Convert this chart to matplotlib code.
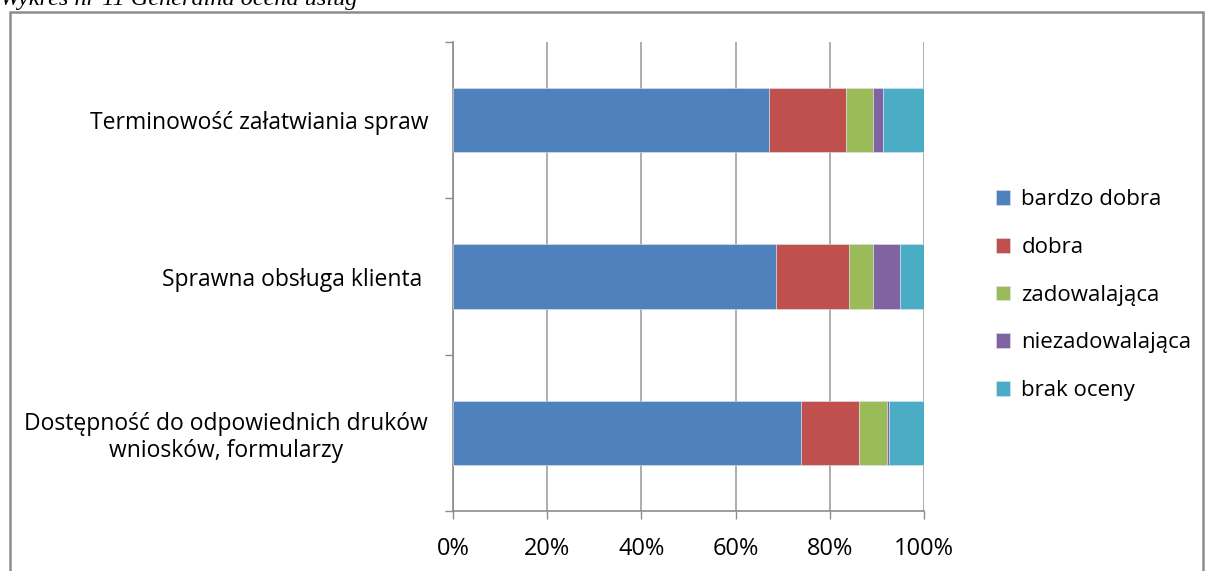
import numpy as np
import matplotlib.pyplot as plt
from matplotlib.patches import Rectangle

plt.rcParams['font.family'] = ['Open Sans', 'DejaVu Sans']

# categories from bottom to top
categories = ['Dostępność do odpowiednich druków\nwniosków, formularzy',
              'Sprawna obsługa klienta ',
              'Terminowość załatwiania spraw']
series = ['bardzo dobra', 'dobra', 'zadowalająca', 'niezadowalająca', 'brak oceny']
values = {
    'bardzo dobra':    [73.9, 68.5, 67.0],
    'dobra':           [12.3, 15.6, 16.4],
    'zadowalająca':    [5.9, 5.1, 5.8],
    'niezadowalająca': [0.5, 5.6, 2.1],
    'brak oceny':      [7.4, 5.2, 8.7],
}
colors = ['#4F81BD', '#C0504D', '#9BBB59', '#8064A2', '#4BACC6']
xticks = [0, 20, 40, 60, 80, 100]
xlabels = ['0%', '20%', '40%', '60%', '80%', '100%']

fig = plt.figure(figsize=(12.06, 5.71), dpi=100)

# frame around the chart
fig.patches.append(Rectangle((10 / 1206, -0.05), 1193 / 1206, 1 - 12 / 571 + 0.05,
                             transform=fig.transFigure, fill=False,
                             edgecolor='#8c8c8c', linewidth=1.8))
fig.text(0.0, 1 - 5 / 571, 'Wykres nr 11 Generalna ocena usług',
         family='Liberation Serif', style='italic', fontsize=17.5, va='baseline')

ax = fig.add_axes([453 / 1206, 1 - 511 / 571, 471 / 1206, 469 / 571])

y = np.arange(len(categories))
left = np.zeros(len(categories))
for name, c in zip(series, colors):
    v = np.array(values[name])
    ax.barh(y, v, left=left, height=0.41, color=c, label=name,
            edgecolor='#dce6f0', linewidth=0.4, zorder=3)
    left += v

ax.set_xlim(0, 100)
ax.set_ylim(-0.5, 2.5)
ax.set_xticks(xticks)
ax.set_xticklabels(xlabels, fontsize=17)
ax.set_yticks(y)
ax.set_yticklabels(categories, fontsize=16.5, multialignment='center',
                   linespacing=1.2)
ax.set_yticks([-0.5, 0.5, 1.5, 2.5], minor=True)
ax.tick_params(axis='y', which='major', length=0, pad=18)
ax.tick_params(axis='y', which='minor', length=6, color='#8c8c8c', width=1)
ax.tick_params(axis='x', length=6, color='#8c8c8c', width=1, pad=13)
ax.xaxis.grid(True, color='#a0a0a0', linewidth=1.2, zorder=0)

for s in ['top', 'right']:
    ax.spines[s].set_visible(False)
for s in ['left', 'bottom']:
    ax.spines[s].set_color('#8c8c8c')
    ax.spines[s].set_linewidth(1.2)

ax.legend(loc='center left', bbox_to_anchor=(1.11, 0.46), frameon=False,
          fontsize=16, handlelength=0.65, handleheight=0.65,
          labelspacing=1.2, handletextpad=0.5)

fig.savefig('out.png', dpi=100)
